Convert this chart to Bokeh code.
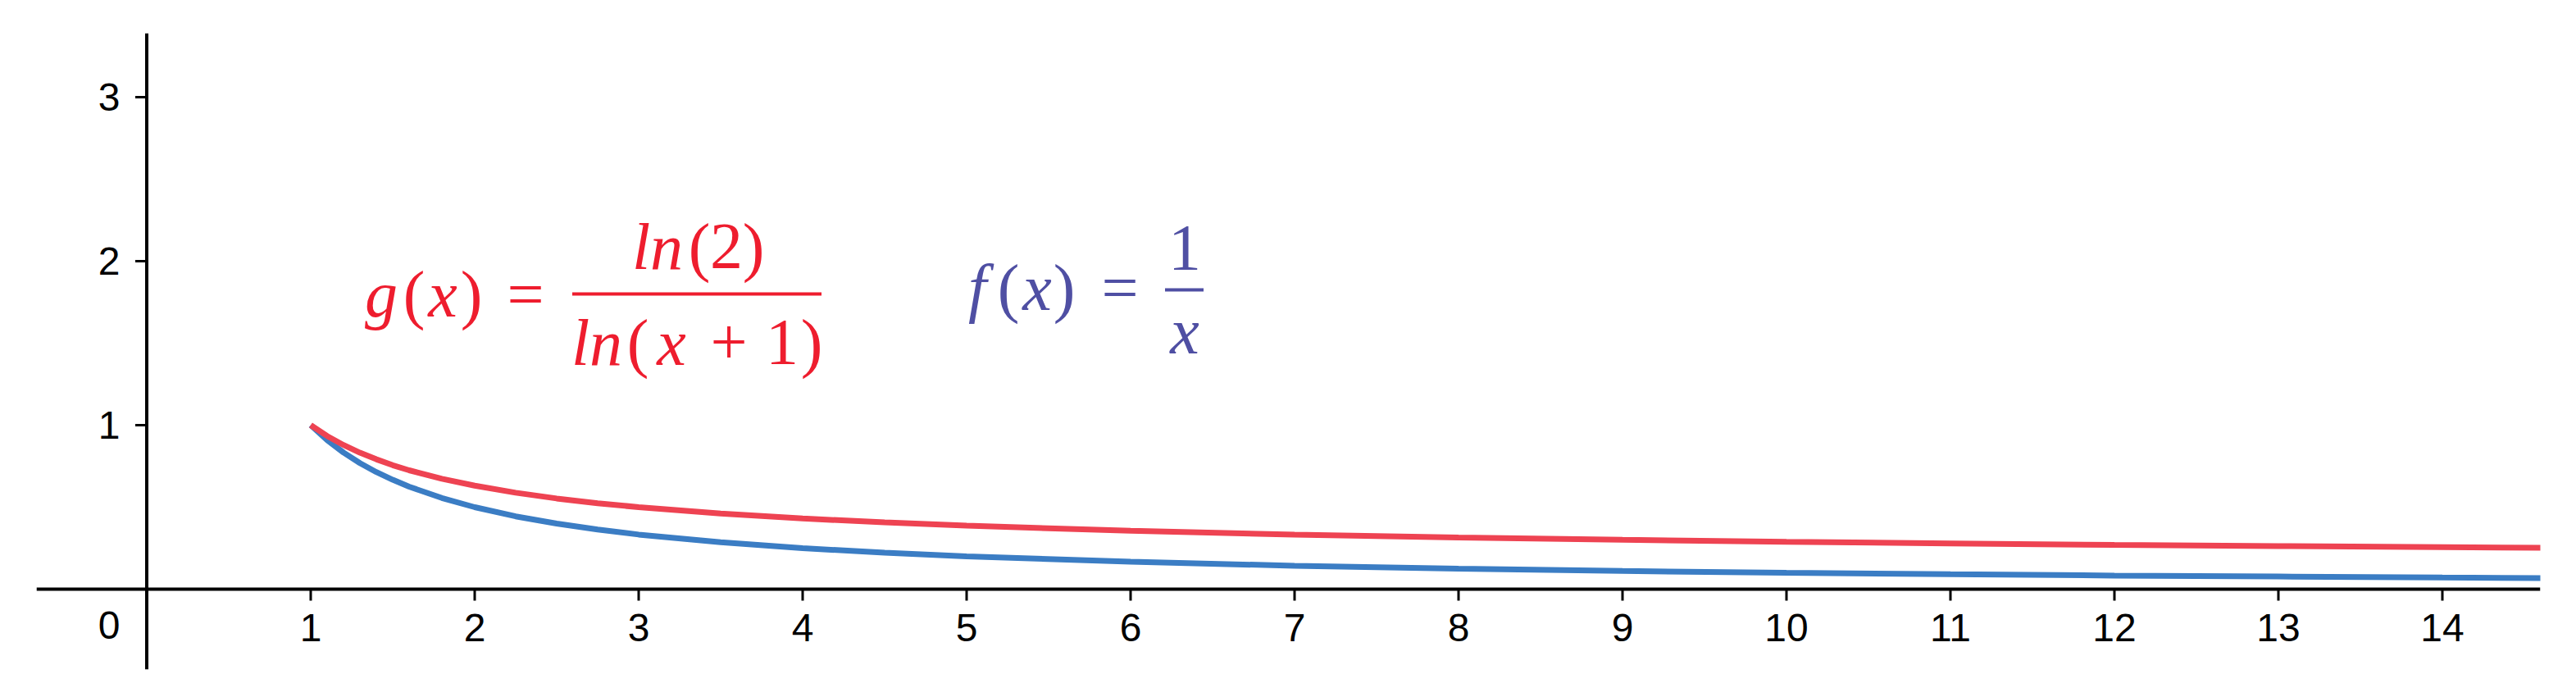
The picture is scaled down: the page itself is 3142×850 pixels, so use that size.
from bokeh.plotting import figure
from bokeh.models import Span, Range1d
from bokeh.core.properties import value
from bokeh.embed import file_html
from bokeh.resources import INLINE

# ---- data ----
x_vals = [1, 1.1, 1.2, 1.3, 1.4, 1.5, 1.6, 1.8, 2, 2.25, 2.5, 2.75, 3, 3.5, 4, 4.5,
          5, 6, 7, 8, 9, 10, 11, 12, 13, 14, 14.6]
f_vals = [1.0, 0.909, 0.833, 0.769, 0.714, 0.667, 0.625, 0.556, 0.5, 0.444, 0.4, 0.364,
          0.333, 0.286, 0.25, 0.222, 0.2, 0.167, 0.143, 0.125, 0.111, 0.1, 0.091, 0.083,
          0.077, 0.071, 0.068]
g_vals = [1.0, 0.934, 0.879, 0.832, 0.792, 0.756, 0.725, 0.673, 0.631, 0.588, 0.553, 0.524,
          0.5, 0.461, 0.431, 0.407, 0.387, 0.356, 0.333, 0.315, 0.301, 0.289, 0.279, 0.270,
          0.263, 0.256, 0.252]
x_ticks = list(range(1, 15))
y_ticks = [1, 2, 3]

RED_CURVE = "#EE4352"
BLUE_CURVE = "#3B7DC4"
RED_TEXT = "#EE1D2E"
BLUE_TEXT = "#4F4FA3"

p = figure(width=3126, height=834, output_backend="svg", toolbar_location=None,
           x_axis_type=None, y_axis_type=None,
           x_range=Range1d(-0.6725, 14.5975), y_range=Range1d(-0.49, 3.39),
           min_border_left=44, min_border_right=28, min_border_top=40, min_border_bottom=18)
p.outline_line_color = None
p.grid.visible = False
p.background_fill_color = "white"
p.border_fill_color = "white"

# axes lines through origin
p.add_layout(Span(location=0, dimension="width", line_color="black", line_width=4))
p.add_layout(Span(location=0, dimension="height", line_color="black", line_width=4))

tick_len = 0.07
p.segment(x0=x_ticks, y0=[0] * len(x_ticks), x1=x_ticks, y1=[-tick_len] * len(x_ticks),
          line_color="black", line_width=3)
p.segment(x0=[0] * len(y_ticks), y0=y_ticks, x1=[-tick_len] * len(y_ticks), y1=y_ticks,
          line_color="black", line_width=3)

p.text(x=x_ticks, y=[-0.235] * len(x_ticks), text=[str(t) for t in x_ticks],
       text_align="center", text_baseline="middle", text_font=value("Liberation Sans"),
       text_font_size="48px", text_color="black")
p.text(x=[-0.23] * len(y_ticks), y=y_ticks, text=[str(t) for t in y_ticks],
       text_align="center", text_baseline="middle", text_font=value("Liberation Sans"),
       text_font_size="48px", text_color="black")
p.text(x=[-0.23], y=[-0.22], text=["0"], text_align="center", text_baseline="middle",
       text_font=value("Liberation Sans"), text_font_size="48px", text_color="black")

# curves
p.line(x_vals, f_vals, line_color=BLUE_CURVE, line_width=7)
p.line(x_vals, g_vals, line_color=RED_CURVE, line_width=7)

# formula g(x) = ln(2) / ln(x+1)
g_italic = dict(t=["g", "x", "ln", "ln", "x"],
                x=[1.43, 1.805, 3.115, 2.745, 3.20],
                y=[1.80, 1.80, 2.09, 1.505, 1.505])
g_roman = dict(t=["(", ")", "=", "(", "2", ")", "(", "+", "1", ")"],
               x=[1.63, 1.98, 2.31, 3.37, 3.535, 3.70, 2.995, 3.55, 3.875, 4.055],
               y=[1.80, 1.80, 1.80, 2.09, 2.09, 2.09, 1.505, 1.505, 1.505, 1.505])
f_italic = dict(t=["f", "x", "x"], x=[5.065, 5.43, 6.33], y=[1.84, 1.84, 1.575])
f_roman = dict(t=["(", ")", "=", "1"], x=[5.255, 5.595, 5.935, 6.33], y=[1.84, 1.84, 1.84, 2.08])

for d, style, col in [(g_italic, "italic", RED_TEXT), (g_roman, "normal", RED_TEXT),
                      (f_italic, "italic", BLUE_TEXT), (f_roman, "normal", BLUE_TEXT)]:
    p.text(x=d["x"], y=d["y"], text=d["t"], text_align="center", text_baseline="alphabetic",
           text_font=value("Liberation Serif"), text_font_style=style,
           text_font_size="80px", text_color=col)

p.segment(x0=[2.595], y0=[1.80], x1=[4.115], y1=[1.80], line_color=RED_TEXT, line_width=4)
p.segment(x0=[6.21], y0=[1.825], x1=[6.445], y1=[1.825], line_color=BLUE_TEXT, line_width=4)

open("out.html", "w").write(file_html(p, INLINE))
